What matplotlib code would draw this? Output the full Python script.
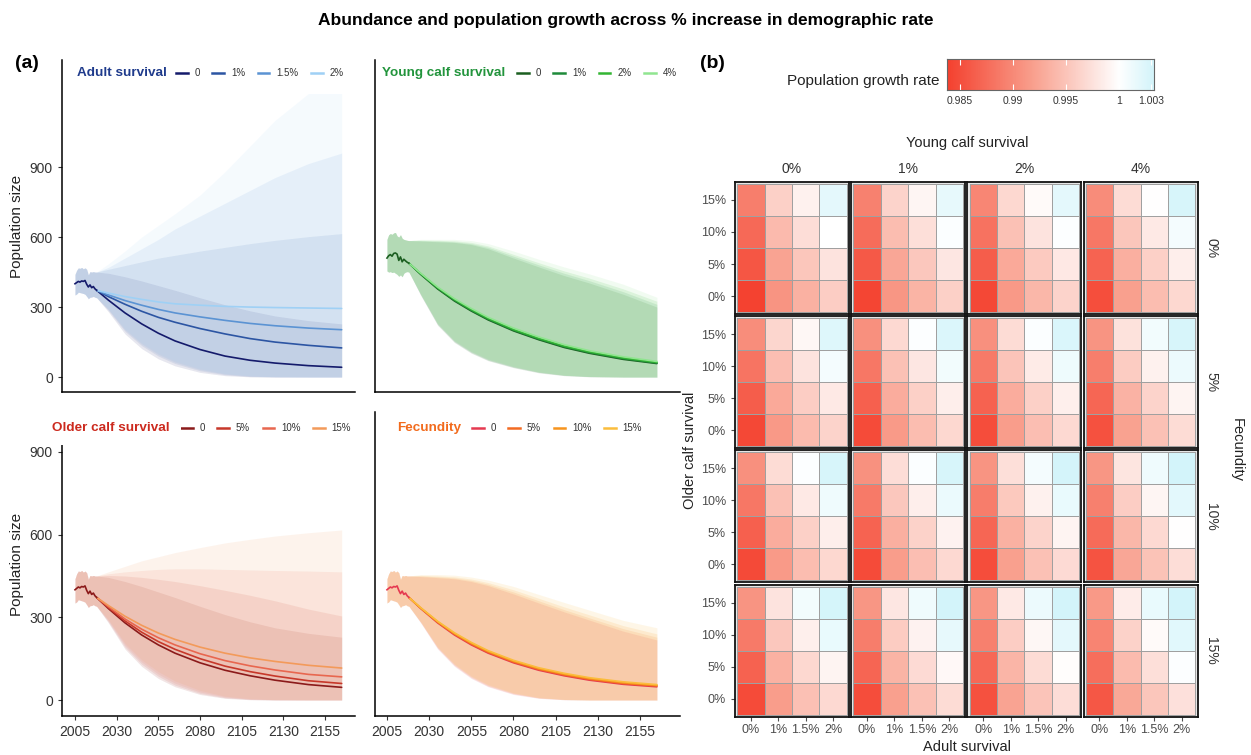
import numpy as np
import matplotlib.pyplot as plt
from matplotlib.colors import LinearSegmentedColormap, TwoSlopeNorm
from matplotlib.lines import Line2D

plt.rcParams['font.family'] = ['Liberation Sans', 'DejaVu Sans']

W, H = 1251, 755

# observed period (shared by every scenario)
hist_years = list(range(2005, 2019))
hist_main = [400, 405, 410, 407, 412, 410, 414, 398, 386, 395, 383, 388, 378, 372]
hist_main_lo = [352, 356, 364, 362, 360, 358, 355, 346, 336, 342, 343, 346, 342, 340]
hist_main_hi = [440, 458, 468, 466, 470, 464, 468, 462, 438, 452, 450, 452, 450, 450]
hist_young = [510, 520, 525, 518, 530, 532, 527, 500, 515, 494, 505, 498, 492, 488]
hist_young_lo = [455, 450, 452, 448, 450, 445, 440, 432, 438, 430, 445, 450, 452, 450]
hist_young_hi = [590, 610, 615, 612, 618, 620, 605, 600, 610, 595, 590, 588, 586, 585]

# projections
proj_years = [2018, 2025, 2035, 2045, 2055, 2065, 2080, 2095, 2110, 2125, 2145, 2165]

adult_labels = ['0', '1%', '1.5%', '2%']
adult_mean = [[372, 330, 275, 228, 188, 155, 118, 90, 72, 60, 49, 42],
              [372, 345, 312, 282, 256, 235, 208, 185, 165, 150, 136, 125],
              [372, 352, 328, 308, 290, 275, 258, 243, 230, 220, 210, 203],
              [372, 360, 345, 333, 322, 314, 308, 303, 300, 298, 296, 294]]
adult_lo = [[340, 280, 185, 122, 78, 48, 20, 6, 1, 0, 0, 0],
            [340, 286, 196, 135, 90, 58, 27, 10, 2, 0, 0, 0],
            [340, 290, 202, 142, 97, 64, 32, 13, 4, 1, 0, 0],
            [340, 294, 208, 148, 104, 70, 37, 16, 6, 2, 0, 0]]
adult_hi = [[450, 445, 430, 412, 392, 372, 340, 310, 284, 262, 242, 228],
            [450, 462, 478, 494, 510, 522, 540, 556, 572, 586, 602, 615],
            [450, 470, 510, 550, 590, 635, 690, 745, 800, 855, 915, 960],
            [450, 485, 540, 600, 650, 700, 780, 880, 990, 1100, 1215, 1215]]

young_labels = ['0', '1%', '2%', '4%']
young_mean = [[488, 440, 378, 326, 283, 245, 198, 160, 127, 102, 76, 58],
              [488, 442, 381, 329, 286, 248, 201, 163, 130, 105, 79, 60],
              [488, 443, 383, 332, 289, 251, 204, 166, 133, 108, 82, 63],
              [488, 445, 386, 336, 294, 256, 210, 172, 139, 113, 87, 67]]
young_lo = [[450, 350, 222, 148, 102, 70, 40, 18, 6, 1, 0, 0],
            [450, 352, 225, 151, 105, 72, 42, 20, 7, 2, 0, 0],
            [450, 354, 228, 154, 108, 75, 44, 21, 8, 2, 0, 0],
            [450, 357, 232, 158, 112, 79, 47, 23, 9, 3, 0, 0]]
young_hi = [[585, 583, 580, 577, 568, 550, 510, 472, 435, 403, 355, 300],
            [585, 585, 583, 580, 572, 556, 518, 481, 445, 413, 366, 312],
            [585, 587, 586, 584, 577, 562, 526, 490, 455, 424, 378, 325],
            [585, 590, 590, 590, 585, 572, 540, 505, 472, 442, 398, 342]]

older_labels = ['0', '5%', '10%', '15%']
older_mean = [[372, 332, 280, 236, 200, 170, 135, 108, 88, 72, 56, 46],
              [372, 335, 287, 246, 212, 184, 150, 123, 103, 87, 70, 60],
              [372, 339, 294, 257, 226, 200, 168, 143, 124, 109, 93, 84],
              [372, 343, 304, 271, 243, 220, 192, 170, 153, 140, 126, 116]]
older_lo = [[340, 280, 185, 122, 78, 48, 20, 6, 1, 0, 0, 0],
            [340, 284, 192, 130, 86, 54, 24, 8, 2, 0, 0, 0],
            [340, 288, 199, 138, 94, 61, 29, 11, 3, 1, 0, 0],
            [340, 292, 206, 146, 103, 69, 35, 14, 5, 1, 0, 0]]
older_hi = [[450, 445, 430, 412, 392, 372, 340, 310, 284, 262, 242, 228],
            [450, 452, 450, 445, 438, 430, 415, 398, 380, 360, 330, 305],
            [450, 458, 465, 470, 474, 476, 476, 474, 472, 470, 468, 465],
            [450, 465, 485, 505, 520, 535, 553, 570, 583, 595, 607, 617]]

fec_labels = ['0', '5%', '10%', '15%']
fec_mean = [[372, 332, 280, 236, 200, 170, 135, 108, 88, 72, 57, 48],
            [372, 333, 282, 239, 203, 173, 138, 111, 91, 75, 60, 51],
            [372, 334, 284, 241, 206, 176, 141, 114, 94, 78, 63, 53],
            [372, 335, 286, 244, 209, 179, 144, 117, 97, 81, 66, 56]]
fec_lo = [[340, 280, 185, 122, 78, 48, 20, 6, 1, 0, 0, 0],
          [340, 281, 188, 125, 81, 50, 22, 7, 1, 0, 0, 0],
          [340, 282, 190, 128, 84, 53, 24, 8, 2, 0, 0, 0],
          [340, 284, 193, 131, 87, 56, 26, 9, 2, 0, 0, 0]]
fec_hi = [[450, 448, 444, 440, 430, 415, 385, 352, 320, 290, 250, 218],
          [450, 450, 447, 443, 434, 420, 392, 360, 328, 298, 259, 228],
          [450, 452, 450, 447, 439, 426, 400, 369, 338, 309, 270, 240],
          [450, 455, 455, 453, 446, 435, 412, 383, 354, 326, 289, 262]]

# growth rate tiles: one 4x4 block per young calf survival level (0, 1, 2, 4%),
# rows = older calf survival 15% -> 0%, columns = adult survival 0, 1, 1.5, 2%
lambda_fec0 = [
    [[0.9890, 0.9960, 0.9988, 1.0020], [0.9873, 0.9941, 0.9971, 1.0000],
     [0.9856, 0.9922, 0.9951, 0.9976], [0.9840, 0.9909, 0.9934, 0.9958]],
    [[0.9893, 0.9962, 0.9992, 1.0018], [0.9875, 0.9944, 0.9973, 1.0003],
     [0.9858, 0.9925, 0.9953, 0.9979], [0.9842, 0.9911, 0.9936, 0.9960]],
    [[0.9897, 0.9966, 0.9995, 1.0020], [0.9880, 0.9948, 0.9976, 1.0002],
     [0.9862, 0.9927, 0.9955, 0.9980], [0.9845, 0.9913, 0.9939, 0.9963]],
    [[0.9902, 0.9970, 0.9999, 1.0030], [0.9884, 0.9951, 0.9982, 1.0008],
     [0.9868, 0.9932, 0.9960, 0.9986], [0.9850, 0.9919, 0.9943, 0.9966]]]
lambda_fec5 = [
    [[0.9903, 0.9965, 0.9993, 1.0025], [0.9882, 0.9945, 0.9977, 1.0008],
     [0.9862, 0.9927, 0.9957, 0.9982], [0.9845, 0.9913, 0.9942, 0.9963]],
    [[0.9905, 0.9968, 1.0002, 1.0027], [0.9884, 0.9947, 0.9979, 1.0010],
     [0.9865, 0.9930, 0.9960, 0.9985], [0.9847, 0.9915, 0.9944, 0.9966]],
    [[0.9905, 0.9970, 1.0003, 1.0028], [0.9886, 0.9950, 0.9983, 1.0013],
     [0.9866, 0.9930, 0.9960, 0.9987], [0.9848, 0.9917, 0.9945, 0.9968]],
    [[0.9909, 0.9975, 1.0010, 1.0030], [0.9890, 0.9956, 0.9988, 1.0014],
     [0.9870, 0.9935, 0.9962, 0.9990], [0.9852, 0.9921, 0.9948, 0.9970]]]
lambda_fec10 = [
    [[0.9906, 0.9970, 1.0002, 1.0030], [0.9884, 0.9948, 0.9982, 1.0012],
     [0.9865, 0.9930, 0.9960, 0.9985], [0.9846, 0.9915, 0.9943, 0.9966]],
    [[0.9907, 0.9972, 1.0003, 1.0030], [0.9887, 0.9952, 0.9985, 1.0015],
     [0.9867, 0.9932, 0.9961, 0.9989], [0.9847, 0.9917, 0.9945, 0.9968]],
    [[0.9909, 0.9973, 1.0008, 1.0032], [0.9889, 0.9954, 0.9988, 1.0016],
     [0.9870, 0.9934, 0.9962, 0.9991], [0.9849, 0.9919, 0.9947, 0.9969]],
    [[0.9911, 0.9978, 1.0012, 1.0033], [0.9892, 0.9957, 0.9992, 1.0021],
     [0.9874, 0.9938, 0.9968, 0.9999], [0.9854, 0.9924, 0.9949, 0.9972]]]
lambda_fec15 = [
    [[0.9909, 0.9977, 1.0010, 1.0031], [0.9886, 0.9953, 0.9987, 1.0016],
     [0.9866, 0.9933, 0.9966, 0.9991], [0.9847, 0.9917, 0.9946, 0.9968]],
    [[0.9910, 0.9979, 1.0012, 1.0033], [0.9889, 0.9956, 0.9989, 1.0018],
     [0.9869, 0.9936, 0.9969, 0.9994], [0.9848, 0.9920, 0.9948, 0.9970]],
    [[0.9911, 0.9981, 1.0014, 1.0033], [0.9891, 0.9958, 0.9993, 1.0020],
     [0.9871, 0.9937, 0.9970, 0.9998], [0.9852, 0.9922, 0.9950, 0.9972]],
    [[0.9913, 0.9984, 1.0016, 1.0033], [0.9895, 0.9961, 0.9996, 1.0022],
     [0.9877, 0.9942, 0.9973, 1.0002], [0.9857, 0.9926, 0.9951, 0.9974]]]

young_levels = ['0%', '1%', '2%', '4%']
fec_levels = ['0%', '5%', '10%', '15%']
adult_levels = ['0%', '1%', '1.5%', '2%']
older_levels = ['0%', '5%', '10%', '15%']
cbar_ticks = [0.985, 0.99, 0.995, 1.0, 1.003]
cbar_ticklabels = ['0.985', '0.99', '0.995', '1', '1.003']


def box(left, top, right, bottom):
    return [left / W, 1 - bottom / H, (right - left) / W, (bottom - top) / H]


fig = plt.figure(figsize=(W / 100, H / 100), dpi=100)

fig.text(0.5, 1 - 20 / H, 'Abundance and population growth across % increase in demographic rate',
         ha='center', va='center', fontsize=12.5, fontweight='bold')
fig.text(15 / W, 1 - 63 / H, '(a)', ha='left', va='center', fontsize=14, fontweight='bold')
fig.text(700 / W, 1 - 63 / H, '(b)', ha='left', va='center', fontsize=14, fontweight='bold')


def line_panel(rect, xlim, ylim, hist, hist_lo, hist_hi, mean, lo, hi, colors, labels,
               title, title_color, title_x, key_x, leg_y, show_x, show_y,
               alpha=0.11, title_bg=False):
    ax = fig.add_axes(box(*rect))
    yrs = hist_years[:-1] + proj_years
    for i in range(4):
        ax.fill_between(yrs, hist_lo[:-1] + lo[i], hist_hi[:-1] + hi[i],
                        color=colors[i], alpha=alpha, lw=0)
    for i in range(4):
        ax.plot(proj_years, mean[i], color=colors[i], lw=1.2, solid_capstyle='round')
    # observed trajectory on top
    ax.plot(hist_years, hist, color=colors[0], lw=1.2, solid_joinstyle='round')
    ax.set_xlim(*xlim)
    ax.set_ylim(*ylim)
    for s in ['top', 'right']:
        ax.spines[s].set_visible(False)
    for s in ['left', 'bottom']:
        ax.spines[s].set_linewidth(1.1)
    ax.set_xticks([2005, 2030, 2055, 2080, 2105, 2130, 2155])
    ax.set_yticks([0, 300, 600, 900])
    ax.tick_params(labelsize=10, colors='#333333', length=3, width=0.8)
    if not show_x:
        ax.tick_params(axis='x', length=0, labelbottom=False)
    if show_y:
        ax.set_ylabel('Population size', fontsize=11, color='#222222', labelpad=4)
    else:
        ax.tick_params(axis='y', length=0, labelleft=False)

    bg = dict(fc='white', ec='none', pad=8) if title_bg else None
    t = fig.text(title_x / W, 1 - leg_y / H, title, ha='left', va='center', fontsize=9.7,
                 fontweight='bold', color=title_color, bbox=bg)
    t.set_zorder(10)
    handles = [Line2D([], [], color=c, lw=1.8) for c in colors]
    ax.legend(handles, labels, loc='center left', bbox_to_anchor=(key_x / W, 1 - leg_y / H),
              bbox_transform=fig.transFigure, ncol=4, frameon=False, fontsize=7,
              handlelength=1.2, handletextpad=0.7, columnspacing=1.3,
              borderpad=0, borderaxespad=0, labelcolor='#333333')
    return ax


navy = ['#141a6b', '#2c55a3', '#5b93d3', '#9fd0f5']
greens = ['#1b5e20', '#1e8a3a', '#33b533', '#90e590']
reds = ['#8b1a1a', '#c7382a', '#e8674f', '#f39a5a']
oranges = ['#e53950', '#f26b22', '#f7941d', '#fbbd3c']

line_panel((62, 60, 355, 392), (1997.2, 2173), (-64, 1359), hist_main, hist_main_lo, hist_main_hi,
           adult_mean, adult_lo, adult_hi, navy, adult_labels, 'Adult survival', '#1f3b8c',
           77, 176, 73, False, True, alpha=0.1)
line_panel((375, 60, 680, 392), (1997.9, 2178.7), (-64, 1359), hist_young, hist_young_lo, hist_young_hi,
           young_mean, young_lo, young_hi, greens, young_labels, 'Young calf survival', '#22943c',
           382, 517, 73, False, False, alpha=0.12)
line_panel((62, 412, 355, 716), (1997.2, 2173), (-58, 1045), hist_main, hist_main_lo, hist_main_hi,
           older_mean, older_lo, older_hi, reds, older_labels, 'Older calf survival', '#cc2a1e',
           52, 181, 428, True, True, alpha=0.11, title_bg=True)
line_panel((375, 412, 680, 716), (1997.9, 2178.7), (-58, 1045), hist_main, hist_main_lo, hist_main_hi,
           fec_mean, fec_lo, fec_hi, oranges, fec_labels, 'Fecundity', '#f26b1d',
           397, 472, 428, True, False, alpha=0.12)

# heatmap of growth rates
vmin, vmax = 0.98377, 1.0033
cmap = LinearSegmentedColormap.from_list(
    'rwc', [(0.0, '#f4412f'), (0.25, '#f9a08e'), (0.5, '#ffffff'), (1.0, '#d3f4fa')])
norm = TwoSlopeNorm(vmin=vmin, vcenter=1.0, vmax=vmax)

blocks = [lambda_fec0, lambda_fec5, lambda_fec10, lambda_fec15]
edges = np.arange(5) - 0.5
for r, fec_block in enumerate(blocks):
    for c, tile in enumerate(fec_block):
        left = 735 + c * 116.2
        top = 182 + r * 134.2
        ax = fig.add_axes(box(left, top, left + 114, top + 132))
        ax.set_facecolor('#e6e6e6')
        ax.pcolormesh(edges, edges, np.array(tile)[::-1], cmap=cmap, norm=norm,
                      edgecolors='#a0a0a0', linewidth=0.5)
        ax.set_xlim(-0.58, 3.58)
        ax.set_ylim(-0.56, 3.56)
        for s in ax.spines.values():
            s.set_linewidth(1.3)
            s.set_color('#111111')
        ax.set_xticks(range(4))
        ax.set_yticks(range(4))
        ax.tick_params(labelsize=9, colors='#4d4d4d', length=3, width=0.8)
        if c == 0:
            ax.set_yticklabels(older_levels)
        else:
            ax.tick_params(axis='y', length=0, labelleft=False)
        if r == 3:
            ax.set_xticklabels(adult_levels)
            ax.tick_params(axis='x', pad=2)
        else:
            ax.tick_params(axis='x', length=0, labelbottom=False)
        if r == 0:
            fig.text((left + 57) / W, 1 - 169 / H, young_levels[c], ha='center', va='center',
                     fontsize=10, color='#333333')
        if c == 3:
            fig.text(1211 / W, 1 - (top + 66) / H, fec_levels[r], ha='center', va='center',
                     fontsize=10, rotation=-90, color='#333333')

fig.text(967 / W, 1 - 143 / H, 'Young calf survival', ha='center', va='center', fontsize=10.5, color='#222222')
fig.text(967 / W, 1 - 747 / H, 'Adult survival', ha='center', va='center', fontsize=10.5, color='#222222')
fig.text(690 / W, 1 - 450 / H, 'Older calf survival', ha='center', va='center', fontsize=10.5,
         rotation=90, color='#222222')
fig.text(1237 / W, 1 - 450 / H, 'Fecundity', ha='center', va='center', fontsize=10.5,
         rotation=-90, color='#222222')

# colour bar
cax = fig.add_axes(box(947, 59, 1154, 90))
grad = np.linspace(vmin, vmax, 400)
cax.imshow(grad[None, :], cmap=cmap, norm=norm, extent=(vmin, vmax, 0, 1), aspect='auto')
cax.set_xlim(vmin, vmax)
cax.set_ylim(0, 1)
cax.vlines(cbar_ticks, 0, 0.2, color='white', lw=0.8)
cax.vlines(cbar_ticks, 0.8, 1, color='white', lw=0.8)
cax.set_yticks([])
cax.set_xticks(cbar_ticks)
cax.set_xticklabels(cbar_ticklabels)
cax.tick_params(axis='x', length=0, labelsize=7.5, colors='#333333', pad=4)
for s in cax.spines.values():
    s.set_color('#666666')
    s.set_linewidth(0.8)
fig.text(940 / W, 1 - 81 / H, 'Population growth rate', ha='right', va='center', fontsize=11,
         color='#222222')

fig.savefig('out.png', dpi=100)
